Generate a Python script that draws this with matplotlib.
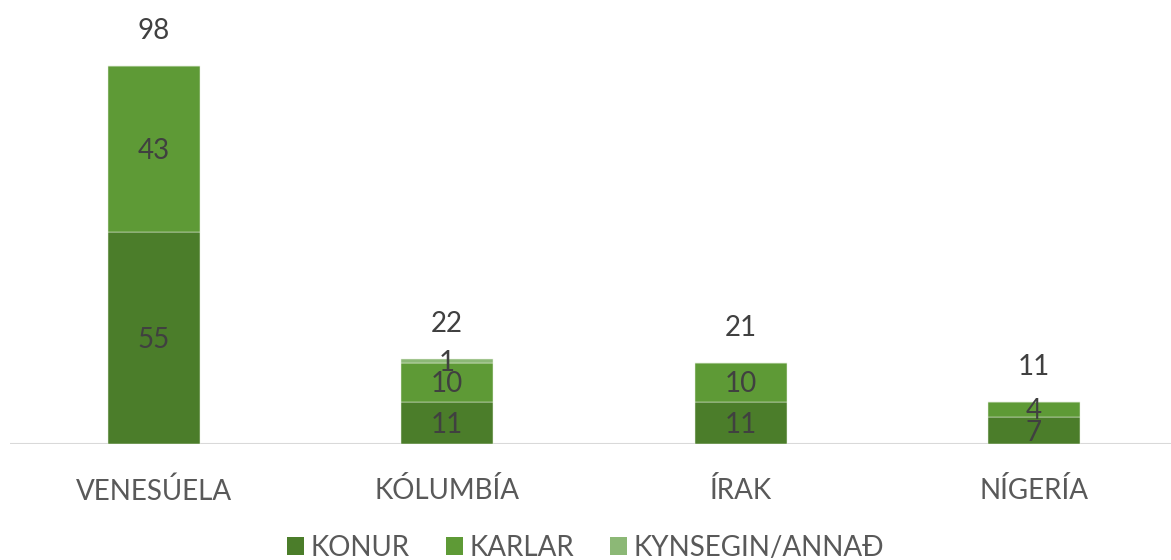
import matplotlib
matplotlib.use("Agg")
import matplotlib.pyplot as plt
from matplotlib.patches import Patch
import numpy as np

plt.rcParams['font.family'] = ['Lato', 'DejaVu Sans']

categories = ["VENESÚELA", "KÓLUMBÍA", "ÍRAK", "NÍGERÍA"]
konur = [55, 11, 11, 7]
karlar = [43, 10, 10, 4]
kynsegin = [0, 1, 0, 0]
series_names = ["KONUR", "KARLAR", "KYNSEGIN/ANNAÐ"]
colors = ["#4b7d2a", "#5e9a36", "#8cb876"]

W, H = 1171, 560
fig = plt.figure(figsize=(W / 100, H / 100), dpi=100)
base_px = 444
top_px = 0
ax = fig.add_axes([10 / W, (H - base_px) / H, (W - 10) / W, (base_px - top_px) / H])

x = np.arange(len(categories))
px_per_cat = 293.4
c0 = 153.7
ax.set_xlim(-(c0 - 10) / px_per_cat, (W - c0) / px_per_cat)
units_per_px = 98 / (base_px - 66)
ax.set_ylim(0, base_px * units_per_px)

bw = 92 / px_per_cat
bottom = np.zeros(len(categories))
for vals, col in zip([konur, karlar, kynsegin], colors):
    vals = np.array(vals, dtype=float)
    ax.bar(x, vals, bw, bottom=bottom, color=col, edgecolor="#e8f0e0",
           linewidth=0.35, zorder=2)
    for xi, v, b in zip(x, vals, bottom):
        if v > 0:
            ax.annotate(f"{int(v)}", (xi, b + v / 2), xytext=(0, -1.5),
                        textcoords="offset points", ha="center", va="center",
                        fontsize=20, color="#404040", zorder=3)
    bottom += vals

for xi, t in zip(x, bottom):
    ax.annotate(f"{int(t)}", (xi, t), xytext=(0, 25), textcoords="offset points",
                ha="center", va="center", fontsize=20, color="#404040")

ax.axhline(0, color="#d9d9d9", linewidth=1.5, zorder=1)
for s in ax.spines.values():
    s.set_visible(False)
ax.set_yticks([])
ax.set_xticks(x)
ax.set_xticklabels(categories, fontsize=20, color="#595959")
ax.tick_params(axis="x", length=0, pad=24)

handles = [Patch(facecolor=c, edgecolor="none") for c in colors]
fig.legend(handles, series_names, loc="center", bbox_to_anchor=(0.5, (H - 548) / H),
           ncol=3, frameon=False, fontsize=20, labelcolor="#595959",
           handlelength=0.62, handleheight=0.62, handletextpad=0.22,
           columnspacing=1.3)

fig.savefig("out.png", dpi=100)
